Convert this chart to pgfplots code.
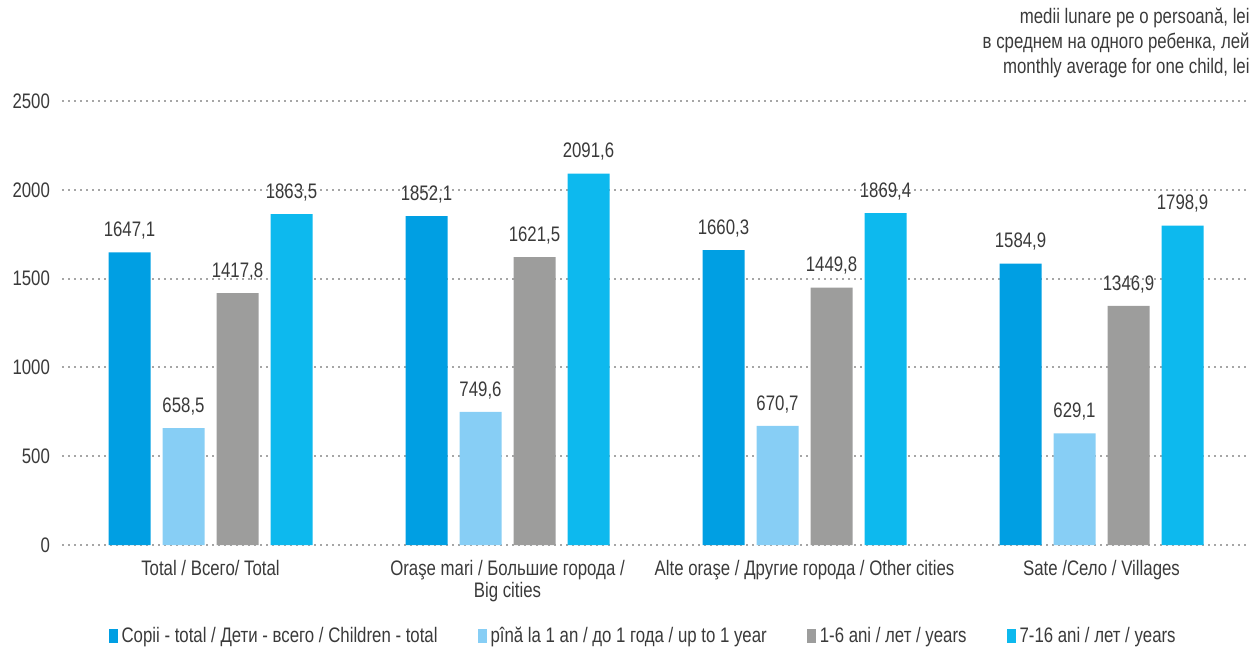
\documentclass[border=0pt]{standalone}
\usepackage{pgfplots}
\pgfplotsset{compat=1.18}
\usepackage{fontspec}
\setmainfont{Liberation Sans}[FakeStretch=0.8]

\definecolor{cTotal}{HTML}{009FE3}
\definecolor{cInfant}{HTML}{87CEF5}
\definecolor{cSmall}{HTML}{9D9D9C}
\definecolor{cSchool}{HTML}{0DB9EE}
\definecolor{txt}{HTML}{3A3A3A}

\begin{document}
\begin{tikzpicture}[font=\fontsize{10.5}{11}\selectfont, text=txt]
\begin{axis}[
    width=594pt, height=222pt, scale only axis,
    ybar, bar width=21pt, ybar=6pt,
    xmin=-0.5, xmax=3.5, ymin=0, ymax=2500,
    xtick={0,1,2,3},
    xticklabels={
        {Total / Всего/ Total},
        {Oraşe mari / Большие города /\\ Big cities},
        {Alte oraşe / Другие города / Other cities},
        {Sate /Село / Villages}},
    xticklabel style={align=center, yshift=0pt},
    ytick={0,500,...,2500},
    yticklabel style={xshift=-2.5pt, /pgf/number format/.cd, 1000 sep={}, assume math mode=true},
    axis line style={draw=none},
    tick style={draw=none},
    ymajorgrids,
    grid style={black!35, line width=1pt, dash pattern=on 1pt off 2pt},
    nodes near coords={\pgfmathprintnumber[fixed, fixed zerofill, precision=1, use comma, 1000 sep={}, assume math mode=true]{\pgfplotspointmeta}},
    every node near coord/.append style={yshift=3pt, text=txt},
    legend columns=4,
    legend style={at={(0.49,-0.205)}, anchor=center, draw=none,
        /tikz/every even column/.append style={column sep=18pt}},
    legend image code/.code={\fill[#1] (0pt,-3.5pt) rectangle (4.5pt,3.5pt);},
]
\addplot[fill=cTotal, draw=none] coordinates {(0,1647.1) (1,1852.1) (2,1660.3) (3,1584.9)};
\addplot[fill=cInfant, draw=none] coordinates {(0,658.5) (1,749.6) (2,670.7) (3,629.1)};
\addplot[fill=cSmall, draw=none] coordinates {(0,1417.8) (1,1621.5) (2,1449.8) (3,1346.9)};
\addplot[fill=cSchool, draw=none] coordinates {(0,1863.5) (1,2091.6) (2,1869.4) (3,1798.9)};
\legend{Copii - total / Дети - всего / Children - total,
        pînă la 1 an / до 1 года / up to 1 year,
        1-6 ani / лет / years,
        7-16 ani / лет / years}
\end{axis}
\node[anchor=south east, inner sep=0pt, align=right, yshift=11.5pt,
      font=\fontsize{10.5}{12.5}\selectfont]
    at (current axis.north east)
    {medii lunare pe o persoană, lei\\в среднем на одного ребенка, лей\\monthly average for one child, lei};
\path (current axis.south west) ++(-31pt,-50pt);
\path (current axis.north east) ++(2pt,50.5pt);
\end{tikzpicture}
\end{document}
